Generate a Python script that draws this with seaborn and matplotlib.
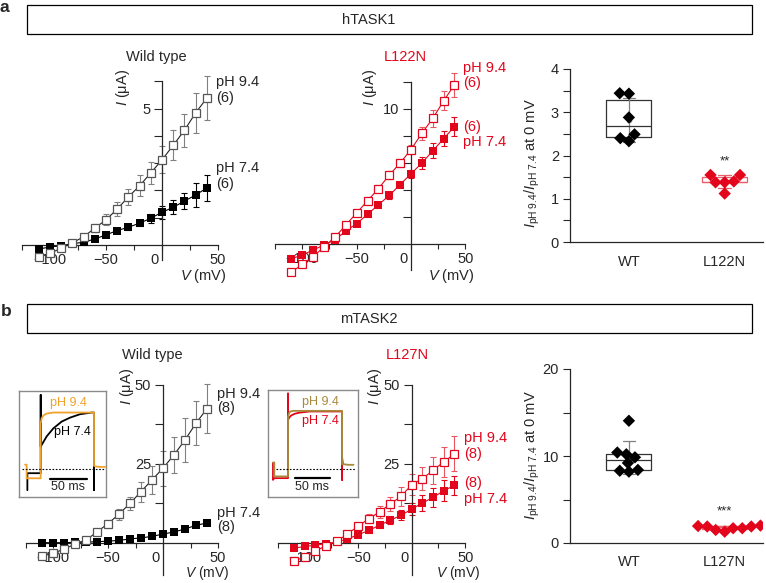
import matplotlib
matplotlib.use('Agg')
import matplotlib.pyplot as plt
from matplotlib.patches import Rectangle
import pandas as pd
import seaborn as sns

W, H = 766, 583
RED = '#e3051b'
RED_ERR = '#ea5560'
RED_BOX = '#e8606a'
ORANGE = '#f2a22c'
OLIVE = '#a88a3c'
GREY = '#808080'

# --- I-V data (uA) ---
volts = [-110, -100, -90, -80, -70, -60, -50, -40, -30, -20, -10, 0, 10, 20, 30, 40]

# hTASK1 wild type
a_wt_94 = [-0.44, -0.30, -0.12, 0.08, 0.30, 0.62, 0.92, 1.32, 1.76, 2.17, 2.64, 3.12, 3.65, 4.20, 4.84, 5.38]
a_wt_94_err = [0.1, 0.1, 0.1, 0.1, 0.1, 0.16, 0.2, 0.27, 0.3, 0.38, 0.4, 0.5, 0.55, 0.6, 0.73, 0.8]
a_wt_74 = [-0.15, -0.07, -0.03, 0.05, 0.10, 0.22, 0.37, 0.53, 0.65, 0.80, 0.98, 1.20, 1.38, 1.61, 1.83, 2.09]
a_wt_74_err = [0.05, 0.05, 0.05, 0.05, 0.05, 0.06, 0.07, 0.08, 0.1, 0.12, 0.17, 0.23, 0.26, 0.3, 0.44, 0.47]

# hTASK1 L122N
a_mut_94 = [-2.1, -1.5, -0.95, -0.2, 0.5, 1.4, 2.3, 3.2, 4.1, 5.1, 6.0, 7.0, 8.2, 9.3, 10.6, 11.8]
a_mut_94_err = [0.1, 0.1, 0.1, 0.1, 0.15, 0.2, 0.2, 0.25, 0.25, 0.3, 0.3, 0.37, 0.47, 0.6, 0.7, 0.9]
a_mut_74 = [-1.1, -0.8, -0.45, -0.07, 0.3, 0.97, 1.5, 2.2, 2.9, 3.6, 4.4, 5.2, 6.0, 6.9, 7.8, 8.7]
a_mut_74_err = [0.1, 0.1, 0.1, 0.1, 0.1, 0.12, 0.15, 0.2, 0.2, 0.25, 0.25, 0.3, 0.47, 0.55, 0.55, 0.7]

# mTASK2 wild type
b_wt_94 = [-4.2, -3.2, -2.0, -0.3, 0.9, 3.5, 6.1, 9.1, 12.5, 16.2, 19.9, 23.6, 27.8, 32.5, 37.8, 42.4]
b_wt_94_err = [0.4, 0.4, 0.4, 0.4, 0.5, 0.8, 1.3, 1.7, 2.0, 3.2, 4.5, 5.5, 5.7, 6.8, 7.0, 7.8]
b_wt_74 = [0.1, 0.1, 0.1, 0.2, 0.3, 0.4, 0.6, 0.8, 1.3, 1.6, 2.1, 2.8, 3.5, 4.4, 5.6, 6.3]
b_wt_74_err = [0.2, 0.2, 0.2, 0.2, 0.2, 0.2, 0.2, 0.2, 0.3, 0.3, 0.3, 0.4, 0.4, 0.5, 0.6, 0.6]

# mTASK2 L127N
b_mut_94 = [-5.6, -4.5, -2.6, -0.8, 0.5, 2.9, 5.3, 7.7, 9.8, 12.3, 14.7, 18.4, 20.3, 22.9, 25.6, 28.1]
b_mut_94_err = [0.3, 0.3, 0.3, 0.3, 0.4, 0.5, 0.9, 1.3, 1.8, 2.1, 3.0, 3.3, 3.7, 4.2, 4.7, 5.5]
b_mut_74 = [-1.6, -1.1, -0.7, -0.2, 0.3, 1.3, 2.6, 4.0, 5.6, 7.2, 8.7, 10.7, 12.6, 14.4, 16.5, 18.2]
b_mut_74_err = [0.2, 0.2, 0.2, 0.2, 0.3, 0.4, 0.6, 0.8, 1.0, 1.3, 1.6, 2.0, 2.4, 2.9, 3.4, 3.0]

# --- I(pH 9.4)/I(pH 7.4) ratios at 0 mV ---
a_ratio_wt = [3.44, 3.43, 2.88, 2.40, 2.49, 2.33]
a_ratio_mut = [1.40, 1.55, 1.38, 1.55, 1.38, 1.12]
b_ratio_wt = [10.4, 9.85, 14.05, 9.2, 10.2, 8.4, 8.3, 8.2]
b_ratio_mut = [1.9, 1.7, 1.5, 1.3, 1.7, 1.95, 2.0, 1.9]

# --- inset current traces (time in ms, current normalised to plateau) ---
wt_trace_94_t = [7.8, 10, 10, 29.2, 29.2, 30.5, 33, 37, 46, 101.9, 101.9, 104, 110, 117]
wt_trace_94_i = [0.08, 0.08, -0.16, -0.16, 0.81, 0.9, 0.95, 0.98, 1.0, 1.0, 0.06, 0.05, 0.04, 0.04]
wt_trace_74_t = [11, 11, 29.2, 29.2, 29.2, 37.4, 46.4, 57.8, 69.2, 82.8, 98.8, 101.9, 101.9, 101.9]
wt_trace_74_i = [-0.37, -0.07, -0.07, 1.31, 0.40, 0.58, 0.72, 0.84, 0.91, 0.97, 1.0, 1.0, -0.37, 0.05]
mut_trace_94_t = [7.1, 9, 9, 28.6, 28.6, 30, 32, 36, 105.7, 105.7, 108, 114, 122]
mut_trace_94_i = [0.11, 0.11, -0.13, -0.13, 0.9, 0.96, 0.99, 1.0, 1.0, 0.08, 0.08, 0.07, 0.07]
mut_trace_74_t = [7.1, 7.1, 9, 28.6, 28.6, 28.6, 30, 33, 38, 45, 60, 105.7, 105.7, 105.7, 107]
mut_trace_74_i = [0.1, -0.19, -0.16, -0.16, 1.3, 0.84, 0.88, 0.92, 0.95, 0.97, 0.99, 0.99, -0.19, 0.2, 0.08]

sns.set_style('ticks')
plt.rcParams['font.family'] = ['Liberation Sans', 'DejaVu Sans']
plt.rcParams['mathtext.fontset'] = 'custom'
plt.rcParams['mathtext.rm'] = 'Liberation Sans'
plt.rcParams['mathtext.it'] = 'Liberation Sans:italic'
plt.rcParams['axes.linewidth'] = 0.9

FS = 10.5
fig = plt.figure(figsize=(W / 100, H / 100), dpi=100)


def px_text(x, y, s, **kw):
    kw.setdefault('fontsize', FS)
    return fig.text(x / W, 1 - y / H, s, **kw)


def px_axes(left, top, right, bottom):
    return fig.add_axes([left / W, 1 - bottom / H, (right - left) / W, (bottom - top) / H])


def iv_panel(ox, oy, kx, ky, ylim, ybounds, d94, e94, d74, e74, cols,
             ymajor, ylabels, yminor):
    line_col, open_col, open_err, fill_col, fill_err = cols
    xlim = (-135, 58)
    ax = px_axes(ox + kx * xlim[0], oy - ky * ylim[1], ox + kx * xlim[1], oy - ky * ylim[0])
    ax.patch.set_alpha(0)
    ax.errorbar(volts, d74, yerr=e74, fmt='none', ecolor=fill_err, elinewidth=0.8,
                capsize=2.4, capthick=0.8, zorder=2, clip_on=False)
    ax.errorbar(volts, d94, yerr=e94, fmt='none', ecolor=open_err, elinewidth=0.8,
                capsize=2.4, capthick=0.8, zorder=2, clip_on=False)
    sns.lineplot(x=volts, y=d74, ax=ax, color=fill_col, marker='s', markersize=6.3,
                 markeredgewidth=0, linewidth=0.8, errorbar=None, zorder=3, clip_on=False)
    sns.lineplot(x=volts, y=d94, ax=ax, color=line_col, marker='s', markersize=5.4,
                 markerfacecolor='white', markeredgecolor=open_col, markeredgewidth=0.9,
                 linewidth=0.8, errorbar=None, zorder=4, clip_on=False)
    ax.set_xlim(xlim)
    ax.set_ylim(ylim)
    for s in ('top', 'right'):
        ax.spines[s].set_visible(False)
    ax.spines['left'].set_position(('data', 0))
    ax.spines['bottom'].set_position(('data', 0))
    ax.spines['bottom'].set_bounds(-125, 50)
    ax.spines['left'].set_bounds(*ybounds)
    ax.set_xticks([-100, -50, 0, 50])
    ax.set_xticklabels(['\u2212100', '\u221250', '0\u2009', '50'])
    ax.set_xticks([-125, -75, -25, 25], minor=True)
    ax.set_yticks(ymajor)
    ax.set_yticklabels(ylabels)
    ax.set_yticks(yminor, minor=True)
    ax.tick_params(axis='x', which='both', direction='out', length=3.5, width=0.8,
                   labelsize=FS, pad=2)
    ax.tick_params(axis='y', which='both', direction='out', length=5.5, width=0.8,
                   labelsize=FS, pad=3)
    ax.get_xticklabels()[2].set_horizontalalignment('right')
    return ax


def ratio_panel(top, bottom, ytop, wt, mut, names, ymajor, yminor, stars, star_y):
    ax = px_axes(570, top, 763, bottom)
    ax.patch.set_alpha(0)
    df = pd.DataFrame({'group': [names[0]] * len(wt) + [names[1]] * len(mut),
                       'ratio': wt + mut})
    sns.boxplot(data=df, x='group', y='ratio', hue='group',
                palette={names[0]: '#333333', names[1]: RED_BOX}, fill=False,
                width=0.47, whis=0, showcaps=False, showfliers=False, linewidth=0.9,
                legend=False, ax=ax)
    sns.pointplot(data=df, x='group', y='ratio', hue='group',
                  palette={names[0]: GREY, names[1]: RED_BOX}, errorbar='sd',
                  capsize=0.13, marker='o', markersize=2, linestyle='none',
                  err_kws={'linewidth': 0.9}, legend=False, ax=ax)
    sns.swarmplot(data=df, x='group', y='ratio', hue='group',
                  palette={names[0]: 'black', names[1]: RED}, marker='D', size=6.3,
                  linewidth=0, legend=False, ax=ax, zorder=5)
    ax.set_xlim(-0.615, 1.4)
    ax.set_ylim(0, ytop)
    ax.set_xlabel('')
    ax.set_ylabel('')
    for s in ('top', 'right'):
        ax.spines[s].set_visible(False)
    ax.spines['left'].set_bounds(0, ytop)
    ax.set_yticks(ymajor)
    ax.set_yticks(yminor, minor=True)
    ax.tick_params(axis='y', which='both', direction='out', length=5, width=0.8,
                   labelsize=FS, pad=3)
    ax.tick_params(axis='x', length=0, labelsize=FS, pad=9)
    ax.text(1, star_y, stars, ha='center', va='center', fontsize=9.5)
    return ax


def inset(box, xlim, ylim, traces, dotted, bar, bar_txt):
    ax = px_axes(*box)
    for t, i, c in traces:
        ax.plot(t, i, color=c, linewidth=1.3, solid_joinstyle='round', clip_on=True)
    ax.plot(dotted, [0, 0], color='black', linestyle=(0, (1.5, 1.5)), linewidth=0.8)
    ax.plot(bar[:2], [bar[2], bar[2]], color='black', linewidth=1.6)
    ax.set_xlim(xlim)
    ax.set_ylim(ylim)
    ax.set_xticks([])
    ax.set_yticks([])
    for s in ax.spines.values():
        s.set_edgecolor('#8a8a8a')
        s.set_linewidth(1.0)
    px_text(bar_txt[0], bar_txt[1], '50 ms', ha='center', va='center', fontsize=9)
    return ax


# --- header boxes ---
for y0, name in ((5, 'hTASK1'), (304, 'mTASK2')):
    fig.add_artist(Rectangle((27 / W, 1 - (y0 + 29) / H), 725 / W, 29 / H,
                             transform=fig.transFigure, fill=False, lw=0.9, ec='black'))
    px_text(369, y0 + 15, name, ha='center', va='center', fontsize=10.5)
px_text(0, 8, 'a', fontweight='bold', fontsize=12.5, va='center', ha='left')
px_text(1, 311, 'b', fontweight='bold', fontsize=12.5, va='center', ha='left')

black_cols = ('#222222', '#555555', GREY, 'black', 'black')
red_cols = (RED, RED, RED_ERR, RED, RED)

# --- panel a ---
iv_panel(162, 245, 1.12, 27.3, (-1.0, 6.2), (-0.55, 6), a_wt_94, a_wt_94_err,
         a_wt_74, a_wt_74_err, black_cols, [5], ['5'], [1, 2, 3, 4, 6])
iv_panel(411, 244, 1.087, 13.5, (-2.4, 12.3), (-1.9, 12), a_mut_94, a_mut_94_err,
         a_mut_74, a_mut_74_err, red_cols, [10], ['10'], [2, 4, 6, 8, 12])
ratio_panel(69, 242, 4, a_ratio_wt, a_ratio_mut, ['WT', 'L122N'],
            [0, 1, 2, 3, 4], [0.5, 1.5, 2.5, 3.5], '**', 1.86)

px_text(156, 57, 'Wild type', ha='center', va='center')
px_text(405, 57, 'L122N', ha='center', va='center', color=RED)
px_text(123, 87, r'$I$ (μA)', ha='center', va='center', rotation=90)
px_text(370, 87, r'$I$ (μA)', ha='center', va='center', rotation=90)
px_text(216, 82, 'pH 9.4', va='center')
px_text(216, 98, '(6)', va='center')
px_text(216, 168, 'pH 7.4', va='center')
px_text(216, 184, '(6)', va='center')
px_text(463, 68, 'pH 9.4', va='center', color=RED)
px_text(463, 83, '(6)', va='center', color=RED)
px_text(463, 127, '(6)', va='center', color=RED)
px_text(463, 142, 'pH 7.4', va='center', color=RED)
px_text(203, 276, r'$V$ (mV)', ha='center', va='center')
px_text(451, 276, r'$V$ (mV)', ha='center', va='center')
px_text(532, 163, r'$I_{\mathrm{pH\ 9.4}}/I_{\mathrm{pH\ 7.4}}$ at 0 mV',
        ha='center', va='center', rotation=90)

# --- panel b ---
iv_panel(163, 543, 1.1, 3.17, (-11, 52), (-10, 50), b_wt_94, b_wt_94_err,
         b_wt_74, b_wt_74_err, black_cols, [25, 50], ['25', '50'], [12.5, 37.5])
iv_panel(411.7, 543, 1.07, 3.17, (-11, 52), (-10, 50), b_mut_94, b_mut_94_err,
         b_mut_74, b_mut_74_err, red_cols, [25, 50], ['25', '50'], [12.5, 37.5])
ratio_panel(369, 543, 20, b_ratio_wt, b_ratio_mut, ['WT', 'L127N'],
            [0, 10, 20], [5, 15], '***', 3.6)

inset((19.3, 391, 106, 497), (0, 118.3), (-0.49, 1.38),
      [(wt_trace_74_t, wt_trace_74_i, 'black'), (wt_trace_94_t, wt_trace_94_i, ORANGE)],
      [3.7, 117], (41.9, 91.9, -0.18), (68, 487.5))
inset((268, 390, 357.7, 496.7), (0, 128), (-0.48, 1.36),
      [(mut_trace_74_t, mut_trace_74_i, RED), (mut_trace_94_t, mut_trace_94_i, OLIVE)],
      [11.4, 124], (38.6, 88.6, -0.16), (311.7, 487.5))

px_text(68, 403, 'pH 9.4', ha='center', va='center', fontsize=9, color=ORANGE)
px_text(72, 431.5, 'pH 7.4', ha='center', va='center', fontsize=9, color='black')
px_text(320, 402, 'pH 9.4', ha='center', va='center', fontsize=9, color=OLIVE)
px_text(320, 421, 'pH 7.4', ha='center', va='center', fontsize=9, color=RED)

px_text(152, 355, 'Wild type', ha='center', va='center')
px_text(407, 355, 'L127N', ha='center', va='center', color=RED)
px_text(127, 386, r'$I$ (μA)', ha='center', va='center', rotation=90)
px_text(375, 386, r'$I$ (μA)', ha='center', va='center', rotation=90)
px_text(217, 394, 'pH 9.4', va='center')
px_text(217, 408, '(8)', va='center')
px_text(217, 513, 'pH 7.4', va='center')
px_text(217, 527, '(8)', va='center')
px_text(464, 438, 'pH 9.4', va='center', color=RED)
px_text(464, 454, '(8)', va='center', color=RED)
px_text(464, 483, '(8)', va='center', color=RED)
px_text(464, 499, 'pH 7.4', va='center', color=RED)
px_text(207, 573.5, r'$V$ (mV)', ha='center', va='center', fontsize=10)
px_text(458, 573.5, r'$V$ (mV)', ha='center', va='center', fontsize=10)
px_text(532, 455, r'$I_{\mathrm{pH\ 9.4}}/I_{\mathrm{pH\ 7.4}}$ at 0 mV',
        ha='center', va='center', rotation=90)

fig.savefig('out.png', dpi=100)
